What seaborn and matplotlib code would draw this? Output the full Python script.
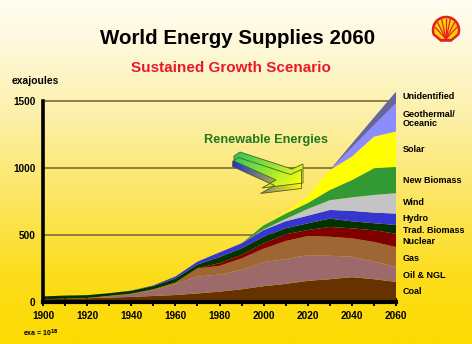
import numpy as np
import matplotlib
matplotlib.use("Agg")
import matplotlib.pyplot as plt
from matplotlib.colors import LinearSegmentedColormap
from matplotlib.patches import Polygon
from matplotlib.ticker import MultipleLocator
import seaborn as sns

# ---- data (exajoules per year) ----
years = [1900, 1910, 1920, 1930, 1940, 1950, 1960, 1970, 1980,
         1990, 2000, 2010, 2020, 2030, 2040, 2050, 2060]
coal = [20, 24, 28, 33, 38, 45, 52, 64, 77, 95, 118, 135, 158, 170, 185, 170, 150]
oil_ngl = [0, 1, 2, 12, 22, 43, 83, 126, 128, 145, 180, 185, 192, 175, 153, 132, 112]
gas = [0, 0, 0, 1, 2, 7, 10, 60, 65, 85, 100, 135, 142, 142, 137, 146, 148]
nuclear = [0, 0, 0, 0, 0, 0, 0, 3, 20, 27, 40, 50, 45, 73, 75, 87, 100]
trad_biomass = [22, 23, 21, 20, 22, 24, 30, 26, 45, 48, 49, 45, 50, 62, 52, 53, 65]
hydro = [0, 0, 0, 0, 1, 5, 15, 22, 35, 38, 50, 53, 57, 65, 78, 79, 85]
wind = [0, 0, 0, 0, 0, 0, 0, 0, 0, 0, 5, 17, 50, 73, 101, 132, 152]
new_biomass = [0, 0, 0, 0, 0, 0, 0, 0, 0, 0, 30, 40, 45, 76, 129, 199, 196]
solar = [0, 0, 0, 0, 0, 0, 0, 0, 0, 0, 0, 10, 48, 149, 175, 236, 264]
geothermal = [0, 0, 0, 0, 0, 0, 0, 0, 0, 0, 0, 0, 0, 0, 67, 85, 211]
unidentified = [0, 0, 0, 0, 0, 0, 0, 0, 0, 0, 0, 0, 0, 0, 30, 58, 87]

series_names = ["Coal", "Oil & NGL", "Gas", "Nuclear", "Trad. Biomass", "Hydro",
                "Wind", "New Biomass", "Solar", "Geothermal/\nOceanic", "Unidentified"]
series_colors = ["#663300", "#9C6A6A", "#9E6634", "#800000", "#003300", "#3535D0",
                 "#C4C4C4", "#339933", "#FFFF00", "#8C8CFF", "#66669E"]
name_y = [75, 196, 326, 448, 532, 622, 741, 910, 1139, 1367, 1532]

y_ticks = [0, 500, 1000, 1500]
x_labels = [1900, 1920, 1940, 1960, 1980, 2000, 2020, 2040, 2060]

# ---- style ----
sns.set_theme(style="white")
plt.rcParams["font.family"] = ["Liberation Sans", "DejaVu Sans"]
plt.rcParams["font.weight"] = "bold"

W, H = 472, 344
fig = plt.figure(figsize=(W / 100, H / 100), dpi=100)

# background wash: cream at the top fading to strong yellow
bg = fig.add_axes([0, 0, 1, 1], zorder=0)
bg_cmap = LinearSegmentedColormap.from_list(
    "wash", [(0.0, "#FFFDF0"), (0.12, "#FEF9DC"), (0.35, "#FDEFA6"),
             (0.6, "#FCE55A"), (0.8, "#FCDD1C"), (1.0, "#FCDB00")])
bg.imshow(np.linspace(0, 1, 256).reshape(-1, 1), aspect="auto", cmap=bg_cmap,
          extent=[0, 1, 0, 1], origin="upper")
bg.axis("off")

# ---- main stacked area chart ----
ymax = 1600
px_per_unit = 201 / 1500
ax_top_px = 302 - ymax * px_per_unit
ax = fig.add_axes([43 / W, 1 - 302 / H, 353 / W, (302 - ax_top_px) / H], zorder=1)
ax.patch.set_alpha(0)

ax.stackplot(years, coal, oil_ngl, gas, nuclear, trad_biomass, hydro, wind,
             new_biomass, solar, geothermal, unidentified,
             colors=series_colors, linewidth=0, edgecolor="none")

ax.set_xlim(1900, 2060)
ax.set_ylim(0, ymax)
ax.set_yticks(y_ticks)
ax.set_yticklabels([str(v) for v in y_ticks])
ax.set_xticks(x_labels)
ax.set_xticklabels([str(v) for v in x_labels])
ax.xaxis.set_minor_locator(MultipleLocator(10))

ax.set_axisbelow(True)
ax.yaxis.grid(True, color="#8E7F40", linewidth=1.4)
ax.xaxis.grid(False)

sns.despine(ax=ax, top=True, right=True)
ax.spines["left"].set_color("black")
ax.spines["left"].set_linewidth(2.6)
ax.spines["left"].set_bounds(0, 1500)
ax.spines["bottom"].set_color("black")
ax.spines["bottom"].set_linewidth(3)

ax.tick_params(axis="y", length=0, pad=5.5, labelsize=7.2, labelcolor="black")
ax.tick_params(axis="x", which="both", direction="inout", length=6, width=1.4,
               color="black", bottom=True)
ax.tick_params(axis="x", which="major", pad=3.5, labelsize=7.2, labelcolor="black")
for lab in ax.get_xticklabels() + ax.get_yticklabels():
    lab.set_fontweight("bold")

# series names at the right edge
for name, y in zip(series_names, name_y):
    ax.text(2063, y, name, fontsize=6.5, fontweight="bold", color="black",
            ha="left", va="center", linespacing=1.0, clip_on=False)

# ---- titles and notes ----
fig.text(237.5 / W, 1 - 38 / H, "World Energy Supplies 2060", fontsize=14.8,
         fontweight="bold", color="black", ha="center", va="center")
fig.text(231 / W, 1 - 68 / H, "Sustained Growth Scenario", fontsize=11,
         fontweight="bold", color="#E8192C", ha="center", va="center")
fig.text(12 / W, 1 - 81 / H, "exajoules", fontsize=7.4, fontweight="bold",
         color="black", ha="left", va="center")
fig.text(23 / W, 1 - 333 / H, r"exa = 10$^{18}$", fontsize=5, color="black",
         ha="left", va="center")
fig.text(265.5 / W, 1 - 140 / H, "Renewable Energies", fontsize=9.2,
         fontweight="bold", color="#1E781E", ha="center", va="center")

# ---- overlay in pixel coordinates: 3D arrow and shell emblem ----
ov = fig.add_axes([0, 0, 1, 1], zorder=3)
ov.set_xlim(0, W)
ov.set_ylim(H, 0)
ov.axis("off")
ov.patch.set_alpha(0)


def gradient_fill(pts, c0, c1, wx, wy):
    pts = np.asarray(pts, float)
    x0, y0 = pts.min(axis=0)
    x1, y1 = pts.max(axis=0)
    gx, gy = np.meshgrid(np.linspace(0, 1, 64), np.linspace(0, 1, 64))
    t = np.clip(wx * gx + wy * gy, 0, 1)
    cm = LinearSegmentedColormap.from_list("g", [c0, c1])
    poly = Polygon(pts, closed=True, facecolor="none", edgecolor="#5A5A20",
                   linewidth=0.6)
    ov.add_patch(poly)
    im = ov.imshow(t, cmap=cm, extent=[x0, x1, y1, y0], origin="upper",
                   aspect="auto", vmin=0, vmax=1, zorder=poly.get_zorder() - 0.1)
    im.set_clip_path(poly)


arrow_top = [(234, 156), (240, 152), (292, 169), (303, 164), (303, 183),
             (262, 188), (276, 180), (234, 161)]
arrow_side = [(x - 1.5, y + 5.5) for x, y in arrow_top]
gradient_fill(arrow_side, "#2030D0", "#FFFF00", 1.0, 0.0)
gradient_fill(arrow_top, "#20C860", "#F4FF10", 0.65, 0.45)
ov.set_xlim(0, W)
ov.set_ylim(H, 0)

# shell emblem
cx, cy, r = 446, 30, 13
ang = np.radians(np.linspace(200, -20, 60))
arc = [(cx + r * np.cos(a), cy - r * np.sin(a)) for a in ang]
shell = arc + [(cx + 5, cy + 10.5), (cx - 5, cy + 10.5)]
ov.add_patch(Polygon(shell, closed=True, facecolor="#FFD500", edgecolor="#E41E26",
                     linewidth=1.8, zorder=4))
for a in np.radians([165, 138, 112, 90, 68, 42, 15]):
    ov.plot([cx, cx + (r - 1.5) * np.cos(a)], [cy + 9, cy - (r - 1.5) * np.sin(a)],
            color="#E41E26", linewidth=0.9, zorder=5)
ov.plot([cx - 5, cx + 5], [cy + 9.5, cy + 9.5], color="#E41E26", linewidth=1.6, zorder=5)

fig.savefig("out.png", dpi=100)
